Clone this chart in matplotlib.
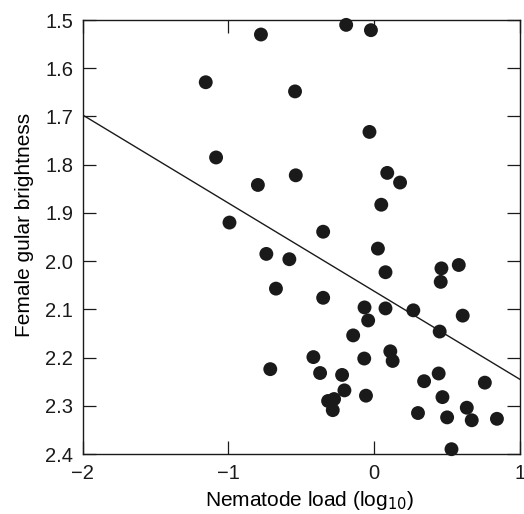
import matplotlib
matplotlib.use("Agg")
import matplotlib.pyplot as plt

# nematode load (log10) and female gular brightness
nematode_load = [
    -1.156, -0.777, -0.192, -0.022, -0.543, -0.032, -1.085, -0.798, -0.538,
    0.090, 0.178, 0.049, -0.993, -0.350, -0.740, -0.582, 0.026, -0.674,
    0.078, 0.462, 0.457, 0.581, -0.350, -0.066, 0.078, 0.269, 0.608,
    -0.041, 0.450, -0.144, -0.417, -0.068, 0.111, 0.127, -0.713, -0.371,
    -0.220, 0.443, 0.343, 0.760, -0.204, -0.056, 0.469, -0.316, -0.275,
    -0.284, 0.636, 0.301, 0.501, 0.670, 0.843, 0.531,
]
gular_brightness = [
    1.629, 1.530, 1.510, 1.521, 1.648, 1.732, 1.785, 1.842, 1.822,
    1.817, 1.837, 1.883, 1.920, 1.939, 1.985, 1.996, 1.974, 2.057,
    2.023, 2.015, 2.043, 2.008, 2.076, 2.096, 2.098, 2.102, 2.113,
    2.123, 2.146, 2.154, 2.199, 2.202, 2.187, 2.207, 2.224, 2.232,
    2.236, 2.233, 2.249, 2.252, 2.268, 2.279, 2.282, 2.290, 2.286,
    2.309, 2.304, 2.315, 2.324, 2.330, 2.327, 2.390,
]

# regression line end points
fit_x = [-2, 1]
fit_y = [1.697, 2.245]

x_ticks = [-2, -1, 0, 1]
y_ticks = [1.5, 1.6, 1.7, 1.8, 1.9, 2.0, 2.1, 2.2, 2.3, 2.4]

plt.rcParams['font.family'] = ['Liberation Sans', 'DejaVu Sans']

fig = plt.figure(figsize=(5.24, 5.14), dpi=100)
ax = fig.add_axes([0.158, 0.1167, 0.834, 0.8443])

ax.plot(fit_x, fit_y, color='#1a1a1a', linewidth=1.0, zorder=2)
ax.scatter(nematode_load, gular_brightness, s=100, color='#1a1a1a',
           edgecolors='none', zorder=3, clip_on=False)

ax.set_xlim(-2, 1)
ax.set_ylim(2.4, 1.5)
ax.set_xticks(x_ticks)
ax.set_yticks(y_ticks)
ax.set_yticklabels([f"{v:.1f}" for v in y_ticks])

ax.tick_params(direction='in', length=9.5, width=0.9, top=True, right=True,
               labelsize=14.5, colors='#1a1a1a')
ax.tick_params(axis='y', pad=7)
ax.tick_params(axis='x', pad=7.5)
for side in ax.spines.values():
    side.set_linewidth(1.0)
    side.set_color('#1a1a1a')

ax.set_xlabel("Nematode load (log$_{10}$)", fontsize=15, labelpad=4)
ax.set_ylabel("Female gular brightness", fontsize=15, labelpad=8)
# labels sit a little off-centre in the original
ax.xaxis.label.set_x(0.52)
ax.yaxis.label.set_y(0.528)

fig.savefig("out.png", dpi=100)
